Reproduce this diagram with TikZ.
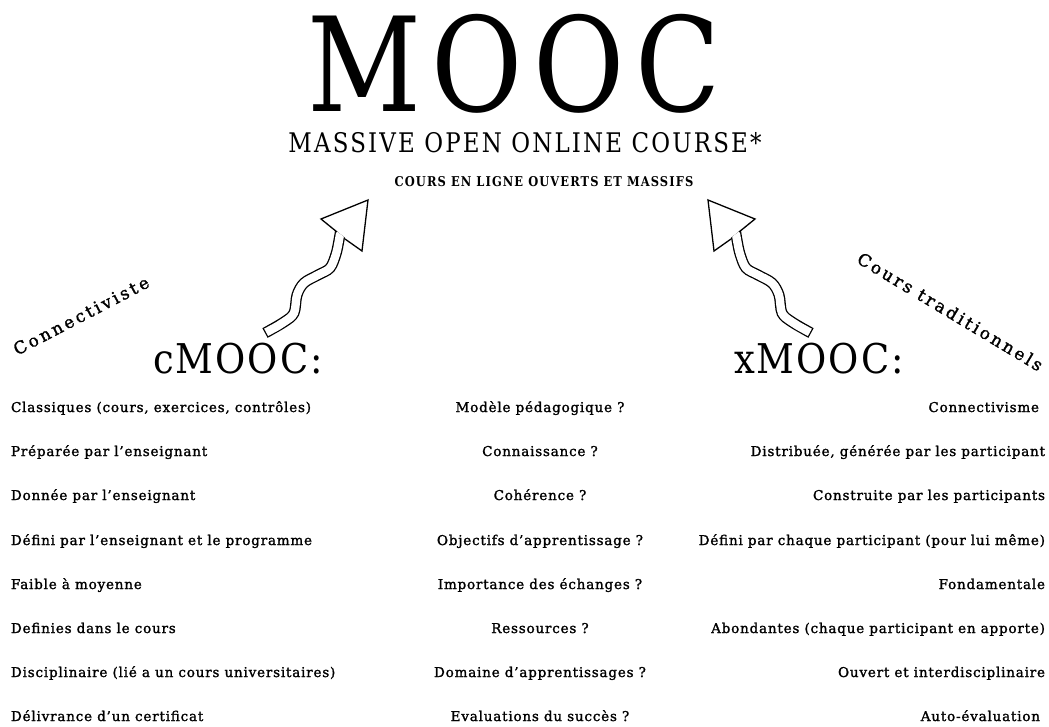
\documentclass[tikz,border=0pt]{standalone}
\usepackage{fontspec}
\setmainfont{DejaVu Serif}
\newfontfamily\bodyfont{DejaVu Serif}[LetterSpace=6, FakeBold=1.5]
\newfontfamily\tiltfont{DejaVu Serif}[LetterSpace=16, FakeBold=1.5]
\newfontfamily\titlefont{DejaVu Serif}[FakeStretch=0.85, LetterSpace=8]
\newfontfamily\subfont{DejaVu Serif}[FakeStretch=0.85, LetterSpace=8]
\newfontfamily\capfont{DejaVu Serif}[FakeStretch=0.85, LetterSpace=8]
\newfontfamily\headfont{DejaVu Serif}[FakeStretch=0.9, LetterSpace=5]
\tikzset{
  every node/.style={inner sep=0pt, outer sep=0pt, text=black},
  rowtext/.style={font=\bodyfont\fontsize{13.5}{15}\selectfont},
  lefttxt/.style={rowtext, anchor=base west},
  midtxt/.style={rowtext, anchor=base},
  righttxt/.style={rowtext, anchor=base east},
  tilttxt/.style={font=\tiltfont\fontsize{17}{19}\selectfont, anchor=base},
  headtxt/.style={font=\headfont\fontsize{41}{43}\selectfont, anchor=base},
  shaftout/.style={line width=11pt, line cap=butt},
  shaftin/.style={line width=8.4pt, white, line cap=butt, shorten <=1.3pt},
  headline/.style={line width=1.3pt, line join=miter}
}
\newcommand{\drawriser}{%
  \begin{scope}
    \clip (198,123) -- (444,315) -- (444,400) -- (198,400) -- cycle;
    \draw[shaftout] plot[smooth, tension=0.55] coordinates
      {(265,333) (284,322) (294,313) (297,295) (304,283) (318,275) (330,268) (336,254) (339,240) (341,228)};
    \draw[shaftin] plot[smooth, tension=0.55] coordinates
      {(265,333) (284,322) (294,313) (297,295) (304,283) (318,275) (330,268) (336,254) (339,240) (341,228)};
  \end{scope}
  \draw[headline] (337,232) -- (321,219) -- (368,200) -- (362,251) -- (345,239);
}
\begin{document}
\begin{tikzpicture}[x=1pt, y=-1pt]
\useasboundingbox[fill=white] (0,0) rectangle (1049,727);

% titles
\node[anchor=base, font=\titlefont\fontsize{131}{133}\selectfont] (title) at (514,112) {MOOC};
\node[anchor=base, font=\subfont\fontsize{27}{29}\selectfont] (full) at (525,153) {MASSIVE OPEN ONLINE COURSE*};
\node[anchor=base, font=\capfont\bfseries\fontsize{13.5}{15}\selectfont] (fr) at (544,187) {COURS EN LIGNE OUVERTS ET MASSIFS};

% arrows
\drawriser
\begin{scope}[shift={(1076,0)}, xscale=-1]
  \drawriser
\end{scope}

% column headers
\node[headtxt] (cmooc) at (238,373) {cMOOC:};
\node[headtxt] (xmooc) at (819,373) {xMOOC:};
\node[tilttxt, rotate=27.5] (conn) at (84,321) {Connectiviste};
\node[tilttxt, rotate=-31] (trad) at (947,317) {Cours traditionnels};

% left column
\node[lefttxt] (l1) at (11,412) {Classiques (cours, exercices, contrôles)};
\node[lefttxt] (l2) at (11,456) {Préparée par l’enseignant};
\node[lefttxt] (l3) at (11,500) {Donnée par l’enseignant};
\node[lefttxt] (l4) at (11,545) {Défini par l’enseignant et le programme};
\node[lefttxt] (l5) at (11,589) {Faible à moyenne};
\node[lefttxt] (l6) at (11,633) {Definies dans le cours};
\node[lefttxt] (l7) at (11,677) {Disciplinaire (lié a un cours universitaires)};
\node[lefttxt] (l8) at (11,721) {Délivrance d’un certificat};

% middle column
\node[midtxt] (m1) at (540,412) {Modèle pédagogique ?};
\node[midtxt] (m2) at (540,456) {Connaissance ?};
\node[midtxt] (m3) at (540,500) {Cohérence ?};
\node[midtxt] (m4) at (540,545) {Objectifs d’apprentissage ?};
\node[midtxt] (m5) at (540,589) {Importance des échanges ?};
\node[midtxt] (m6) at (540,633) {Ressources ?};
\node[midtxt] (m7) at (540,677) {Domaine d’apprentissages ?};
\node[midtxt] (m8) at (540,721) {Evaluations du succès ?};

% right column
\node[righttxt] (r1) at (1039,412) {Connectivisme};
\node[righttxt] (r2) at (1045,456) {Distribuée, générée par les participant};
\node[righttxt] (r3) at (1045,500) {Construite par les participants};
\node[righttxt] (r4) at (1045,545) {Défini par chaque participant (pour lui même)};
\node[righttxt] (r5) at (1045,589) {Fondamentale};
\node[righttxt] (r6) at (1045,633) {Abondantes (chaque participant en apporte)};
\node[righttxt] (r7) at (1045,677) {Ouvert et interdisciplinaire};
\node[righttxt] (r8) at (1040,721) {Auto-évaluation};
\end{tikzpicture}
\end{document}
